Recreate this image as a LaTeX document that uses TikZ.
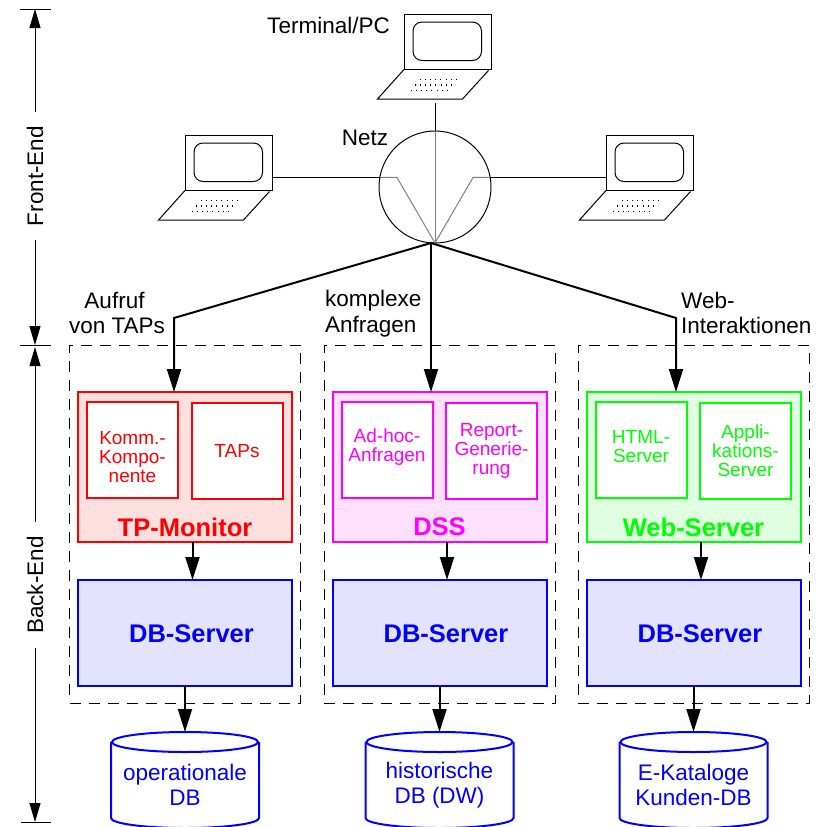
\documentclass[tikz,border=0pt]{standalone}
\usepackage{fontspec}
\setmainfont{Liberation Sans}
\usetikzlibrary{arrows.meta}

\definecolor{netred}{RGB}{255,0,0}
\definecolor{netpink}{RGB}{255,0,255}
\definecolor{netgreen}{RGB}{0,255,0}
\definecolor{netblue}{RGB}{0,0,255}

\tikzset{
	labeltext/.style={font=\fontsize{22.5}{25.5}\selectfont,inner sep=0pt},
	innertext/.style={font=\fontsize{19}{19}\selectfont,inner sep=0pt,align=center},
	titletext/.style={font=\fontsize{25.5}{28}\selectfont\bfseries,inner sep=0pt},
	dimtext/.style={font=\fontsize{22.5}{25}\selectfont,rotate=90,inner xsep=14pt,inner ysep=0pt},
	thin line/.style={line width=1pt},
	dim line/.style={line width=1pt,-{Triangle[length=19pt,width=11pt]}},
	heavy/.style={line width=2pt,-{Triangle[length=23pt,width=14pt]}},
	screenbox/.style={draw,line width=1pt,minimum width=87pt,minimum height=55pt,inner sep=0pt,outer sep=0pt},
	group/.style={draw,line width=1pt,dash pattern=on 11pt off 8pt,minimum width=231pt,minimum height=358pt,outer sep=0pt},
	outerbox/.style={draw=#1,fill=#1!12,line width=2pt,minimum width=214pt,minimum height=150pt,outer sep=0pt},
	innerbox/.style={draw=#1,fill=white,line width=2pt,minimum width=91pt,minimum height=96pt,outer sep=0pt},
	dbserver/.style={draw=netblue,fill=netblue!11,line width=2pt,minimum width=214pt,minimum height=106pt,outer sep=0pt},
	store/.style={minimum width=148pt,minimum height=96pt,outer sep=0pt,inner sep=0pt},
	store line/.style={draw=netblue,line width=2pt},
	storetext/.style={text=netblue,align=center,inner sep=0pt,font=\fontsize{22.5}{25}\selectfont}
}

\newcommand{\laptop}[3]{
	\node[screenbox] (#1) at (#2,#3) {};
	\draw[thin line,rounded corners=9pt] (#2-34.5,#3-19.5) rectangle (#2+34,#3+19);
	\draw[thin line] (#2-43.5,#3+28) -- (#2-70,#3+57.5) -- (#2+15,#3+57.5) -- (#2+41,#3+29);
	\foreach \row/\start in {0/-27.5,1/-32.5,2/-36.5}
		\foreach \k in {0,...,7}
			\fill (#2+\start+\k*5.2-0.5,#3+37.5+\row*5.9-0.5) rectangle ++(1.1,1.1);
}

\begin{document}
\begin{tikzpicture}[x=1pt,y=-1pt]
	\useasboundingbox (0,0) rectangle (819,827);

	\node[labeltext] (terminal) at (328.5,25) {Terminal/PC};
	\node[labeltext] (netzlabel) at (365,138) {Netz};
	\laptop{termT}{447.5}{41.5}
	\laptop{termL}{228.5}{162.5}
	\laptop{termR}{649.5}{162.5}
	\node[draw,circle,line width=1pt,minimum size=112pt,inner sep=0pt,outer sep=0pt] (netz) at (435,187) {};
	\coordinate (hub) at (431,243);
	\coordinate (termTend) at (435,103);

	\draw[thin line] (termTend) -- (netz.north);
	\draw[thin line] (termL.east |- netz.170) -- (netz.170);
	\draw[thin line] (netz.10) -- (termR.west |- netz.10);
	\draw[gray,thin line] (netz.north) -- (netz.south);
	\draw[gray,thin line] (netz.170) -- ([xshift=17pt]netz.170) -- (netz.south);
	\draw[gray,thin line] (netz.10) -- ([xshift=-17pt]netz.10) -- (netz.south);

	\foreach \c/\dx/\col/\titel/\links/\rechts/\shift/\bank in {
		A/0/netred/{TP-Monitor}/{Komm.-\\Kompo-\\nente}/{TAPs}/7/{operationale\\DB},
		B/254.5/netpink/{DSS}/{Ad-hoc-\\Anfragen}/{Report-\\Generie-\\rung}/-3/{historische\\DB (DW)},
		C/508.5/netgreen/{Web-Server}/{HTML-\\Server}/{Appli-\\kations-\\Server}/-3/{E-Kataloge\\Kunden-DB}}
	{
		\node[group] (group\c) at (185+\dx,524) {};
		\node[outerbox=\col] (srv\c) at (185+\dx,467) {};
		\node[innerbox=\col] (left\c) at (132.5+\dx,450) {};
		\node[innerbox=\col] (right\c) at (237+\dx,451) {};
		\node[innertext,text=\col] (lefttext\c) at ([yshift=-\shift pt]left\c.center) {\links};
		\node[innertext,text=\col] (righttext\c) at (right\c.center) {\rechts};
		\node[titletext,text=\col] (titel\c) at (185+\dx,527) {\titel};
		\node[dbserver] (db\c) at (185+\dx,633) {};
		\node[titletext,text=netblue] (dbtitel\c) at (191.5+\dx,634) {DB-Server};
		\node[store] (store\c) at (185+\dx,780) {};
		\draw[store line] ([yshift=-10pt]store\c.north) ellipse [x radius=73pt,y radius=10pt];
		\draw[store line] ([yshift=-10pt]store\c.north west) -- ([yshift=10pt]store\c.south west)
			arc [start angle=180,end angle=360,x radius=74pt,y radius=10pt] -- ([yshift=-10pt]store\c.north east);
		\node[storetext] (storetext\c) at (185+\dx,785) {\bank};
		\draw[heavy] ([xshift=7.5pt]srv\c.south) -- ([xshift=7.5pt]db\c.north);
		\draw[heavy] (db\c.south) -- (store\c.north);
	}

	\coordinate (bendA) at (174,318);
	\coordinate (bendC) at (676,318);
	\draw[heavy] (hub) -- (bendA) -- (bendA |- srvA.north);
	\draw[heavy] (hub) -- (hub |- srvB.north);
	\draw[heavy] (hub) -- (bendC) -- (bendC |- srvC.north);

	\node[labeltext,align=center] (aufruf) at (117,313) {Aufruf\hspace*{5pt}\\von TAPs};
	\node[labeltext,align=left,anchor=west] (komplex) at (325,313.5) {komplexe\\Anfragen};
	\node[labeltext,align=left,anchor=west] (webint) at (681,313) {Web-\\Interaktionen};

	\coordinate (dimtop) at (35,9);
	\coordinate (dimmid) at (35,345);
	\coordinate (dimmidb) at (35,347);
	\coordinate (dimlow) at (35,822);
	\node[dimtext] (frontend) at (35,176) {Front-End};
	\node[dimtext] (backend) at (35,585) {Back-End};
	\draw[dim line] (frontend.east) -- (dimtop);
	\draw[dim line] (frontend.west) -- (dimmid);
	\draw[dim line] (backend.east) -- (dimmidb);
	\draw[dim line] (backend.west) -- (dimlow);
	\draw[thin line] ([xshift=-15pt]dimtop) -- ([xshift=16pt]dimtop);
	\draw[thin line] ([xshift=-15pt]dimmid) -- ([xshift=16pt]dimmid);
	\draw[thin line] ([xshift=-14pt]dimlow) -- ([xshift=16pt]dimlow);
\end{tikzpicture}
\end{document}
